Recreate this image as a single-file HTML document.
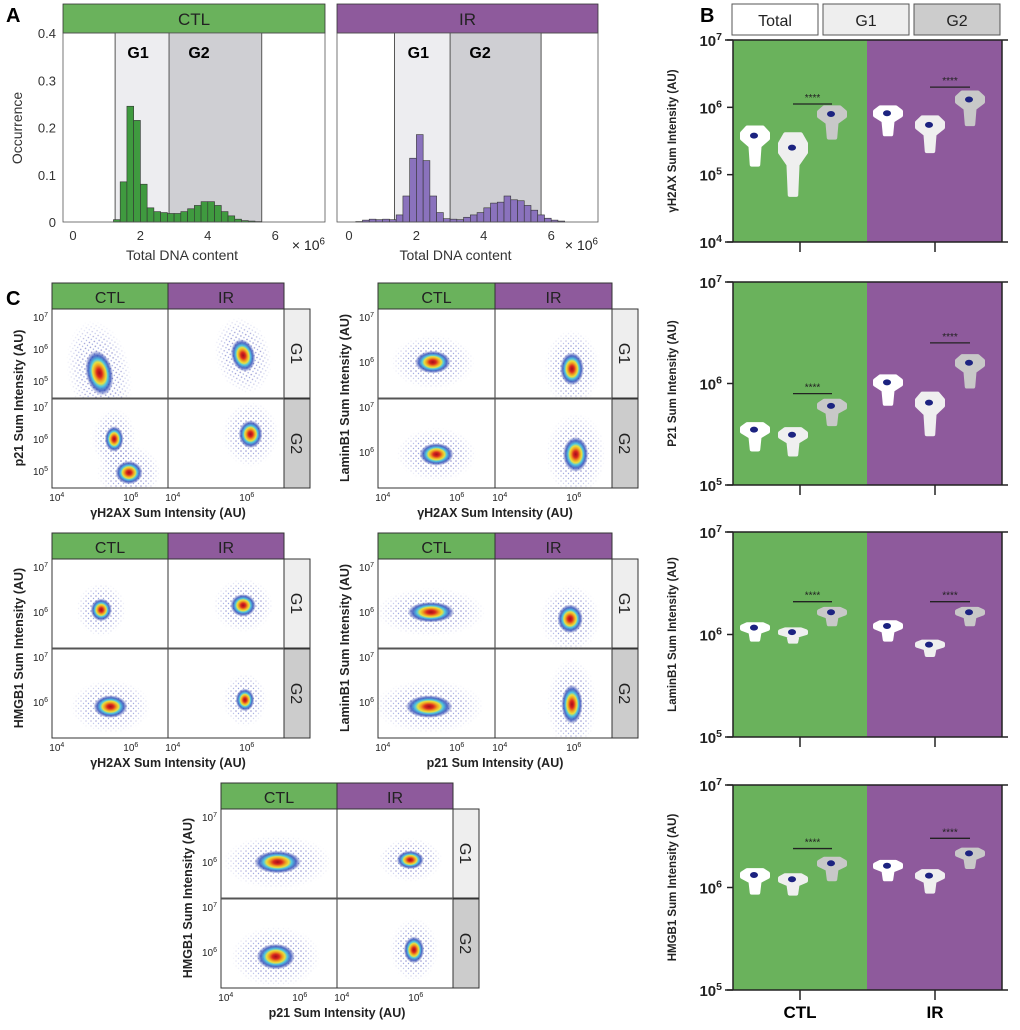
<!DOCTYPE html>
<html><head><meta charset="utf-8"><style>
body{margin:0;background:#fff;font-family:"Liberation Sans",Arial,sans-serif}
svg{display:block}
</style></head><body>
<svg id="fig" width="1020" height="1030" viewBox="0 0 1020 1030" xmlns="http://www.w3.org/2000/svg">
<defs>
<radialGradient id="dens" cx="0.5" cy="0.5" r="0.5">
<stop offset="0" stop-color="#a0101a"/><stop offset="0.18" stop-color="#d8261e"/><stop offset="0.35" stop-color="#f0a020"/><stop offset="0.48" stop-color="#e8e040"/><stop offset="0.6" stop-color="#50c8e0"/><stop offset="0.78" stop-color="#2848b8" stop-opacity="0.8"/><stop offset="1" stop-color="#2030a0" stop-opacity="0"/>
</radialGradient>
<radialGradient id="fade" cx="0.5" cy="0.5" r="0.5">
<stop offset="0" stop-color="#fff"/><stop offset="0.6" stop-color="#fff" stop-opacity="0.8"/><stop offset="1" stop-color="#fff" stop-opacity="0"/>
</radialGradient>
<mask id="fadeMask" maskContentUnits="objectBoundingBox"><rect x="0" y="0" width="1" height="1" fill="url(#fade)"/></mask>
<pattern id="dots" width="5" height="5" patternUnits="userSpaceOnUse"><circle cx="1" cy="1" r="0.8" fill="#2a2aa0"/><circle cx="3.5" cy="3.5" r="0.7" fill="#3a50c0"/></pattern>
</defs>
</svg>
<script>
// ---------- data ----------
const histCtlStart = 1.2, histIrStart = 0.2, histBin = 0.2;
const histCtl = [0.005,0.085,0.245,0.215,0.08,0.03,0.022,0.02,0.018,0.018,0.022,0.028,0.035,0.043,0.043,0.035,0.022,0.013,0.006,0.003,0.002,0.001];
const histIr = [0.001,0.004,0.006,0.005,0.006,0.005,0.015,0.055,0.135,0.185,0.13,0.055,0.02,0.007,0.006,0.005,0.01,0.015,0.02,0.03,0.04,0.042,0.055,0.047,0.045,0.035,0.025,0.015,0.008,0.004,0.002];
const histXTicks = [0,2,4,6];
const histYTicks = [0,0.1,0.2,0.3,0.4];
const gateCtl = [1.25,2.85,5.6];
const gateIr = [1.35,3.0,5.7];

const violinLabels = ["γH2AX Sum Intensity (AU)","P21 Sum Intensity (AU)","LaminB1 Sum Intensity (AU)","HMGB1 Sum Intensity (AU)"];
const violinMin = [4,5,5,5];
const violinTops = [[5.7,5.6,6.0,6.0,5.85,6.22],[5.6,5.55,5.83,6.07,5.9,6.27],[6.1,6.05,6.25,6.12,5.93,6.25],[6.17,6.12,6.28,6.25,6.16,6.37]];
const violinBots = [[5.15,4.7,5.55,5.6,5.35,5.75],[5.35,5.3,5.6,5.8,5.5,5.97],[5.95,5.93,6.1,5.95,5.8,6.1],[5.95,5.94,6.08,6.08,5.96,6.2]];
const sigLevels = [[6.05,6.3],[5.9,6.4],[6.32,6.32],[6.38,6.48]];

const scatterYLabels = ["p21 Sum Intensity (AU)","LaminB1 Sum Intensity (AU)","HMGB1 Sum Intensity (AU)","LaminB1 Sum Intensity (AU)","HMGB1 Sum Intensity (AU)"];
const scatterXLabels = ["γH2AX Sum Intensity (AU)","γH2AX Sum Intensity (AU)","γH2AX Sum Intensity (AU)","p21 Sum Intensity (AU)","p21 Sum Intensity (AU)"];
const scatterClusters = [
 [[[5.15,5.25,0.32,0.62,-12]],[[5.9,5.8,0.28,0.45,-15]],[[5.55,6.0,0.22,0.35,0],[5.95,4.95,0.32,0.32,0]],[[6.1,6.15,0.28,0.38,0]]],
 [[[5.35,6.0,0.42,0.22,0]],[[5.95,5.85,0.28,0.32,0]],[[5.45,5.95,0.4,0.22,0]],[[6.05,5.95,0.3,0.34,0]]],
 [[[5.2,6.05,0.25,0.22,0]],[[5.9,6.15,0.3,0.22,0]],[[5.45,5.9,0.4,0.22,0]],[[5.95,6.05,0.22,0.22,0]]],
 [[[5.3,6.0,0.55,0.2,0]],[[5.9,5.85,0.3,0.28,0]],[[5.25,5.9,0.55,0.22,0]],[[5.95,5.95,0.25,0.38,0]]],
 [[[5.4,6.0,0.55,0.22,0]],[[5.85,6.05,0.32,0.18,0]],[[5.35,5.9,0.45,0.25,0]],[[5.95,6.05,0.24,0.26,0]]]
];

// ---------- helpers ----------
const svg = document.getElementById('fig');
const NS = 'http://www.w3.org/2000/svg';
function mk(tag, at, parent){const e=document.createElementNS(NS,tag);for(const k in at)e.setAttribute(k,at[k]);(parent||svg).appendChild(e);return e;}
function txt(x,y,s,at,parent){const t=mk('text',Object.assign({x:x,y:y},at||{}),parent);t.textContent=s;return t;}
function sup(x,y,base,exp,size,anchor,parent){const t=mk('text',{x:x,y:y,'font-size':size,'text-anchor':anchor||'middle',fill:'#222'},parent);t.appendChild(document.createTextNode(base));const s=document.createElementNS(NS,'tspan');s.setAttribute('dy',-size*0.4);s.setAttribute('font-size',size*0.7);s.textContent=exp;t.appendChild(s);return t;}
const GREEN='#6ab25c', PURPLE='#8e5a9c';

let e;
e=txt(6,22,'A',{'font-size':20,'font-weight':'bold'});
e=txt(700,22,'B',{'font-size':20,'font-weight':'bold'});
e=txt(6,305,'C',{'font-size':20,'font-weight':'bold'});

// ---------- Panel A ----------
function hist(x0,x1,zeroX,title,col,data,start,gates,name){
  const g=mk('g',{});
  const top=33,bot=222;
  const xs=v=>zeroX+v*33.7, ys=v=>bot-v/0.4*(bot-top);
  const h=mk('rect',{x:x0,y:4,width:x1-x0,height:29,fill:col,stroke:'#333','stroke-width':0.8},g);
  txt((x0+x1)/2,25,title,{'font-size':17,'text-anchor':'middle',fill:'#222'},g);
  mk('rect',{x:xs(gates[0]),y:top,width:xs(gates[1])-xs(gates[0]),height:bot-top,fill:'#ededf0'},g);
  mk('rect',{x:xs(gates[1]),y:top,width:xs(gates[2])-xs(gates[1]),height:bot-top,fill:'#cfcfd3'},g);
  gates.forEach(v=>mk('line',{x1:xs(v),x2:xs(v),y1:top,y2:bot,stroke:'#555','stroke-width':1},g));
  const bc=col===GREEN?'#3f9a3f':'#8a72bd';
  data.forEach((v,i)=>{const r=mk('rect',{x:xs(start+i*histBin),y:ys(v),width:histBin*33.7,height:bot-ys(v),fill:bc,stroke:'#333','stroke-width':0.6},g);});
  mk('rect',{x:x0,y:top,width:x1-x0,height:bot-top,fill:'none',stroke:'#555','stroke-width':0.8},g);
  txt((xs(gates[0])+xs(gates[1]))/2-4,58,'G1',{'font-size':16,'font-weight':'bold','text-anchor':'middle'},g);
  txt(xs(gates[1])+30,58,'G2',{'font-size':16,'font-weight':'bold','text-anchor':'middle'},g);
  histXTicks.forEach(v=>{txt(xs(v),240,String(v),{'font-size':13,'text-anchor':'middle',fill:'#333'},g);});
  txt((x0+x1)/2-12,260,'Total DNA content',{'font-size':14,'text-anchor':'middle',fill:'#333'},g);
  sup(x1,250,'× 10','6',14,'end',g);
  return {g,ys,top,bot};
}
const hc=hist(63,325,73,'CTL',GREEN,histCtl,histCtlStart,gateCtl,'histogram-ctl');
hist(337,598,349,'IR',PURPLE,histIr,histIrStart,gateIr,'histogram-ir');
histYTicks.forEach(v=>{txt(56,hc.ys(v)+5,String(v),{'font-size':13,'text-anchor':'end',fill:'#333'});});
e=txt(0,0,'Occurrence',{'font-size':14,'text-anchor':'middle',fill:'#333',transform:'translate(22,128) rotate(-90)'});

// ---------- Panel B ----------
[['Total',732,'#fff'],['G1',823,'#eeeeee'],['G2',914,'#cccccc']].forEach(([l,x,c])=>{
  const r=mk('rect',{x:x,y:4,width:86,height:31,fill:c,stroke:'#555','stroke-width':1});
  txt(x+43,26,l,{'font-size':16,'text-anchor':'middle',fill:'#222'});
});
const vRows=[[40,242],[282,485],[532,737],[785,990]];
const vX=[755,793,832,888,930,970];
const vFill=['#ffffff','#efefef','#c8c8c8'];
vRows.forEach(([t,b],ri)=>{
  const g=mk('g',{});
  const lo=violinMin[ri],hi=7;const ys=v=>b-(v-lo)/(hi-lo)*(b-t);
  mk('rect',{x:733,y:t,width:134,height:b-t,fill:GREEN},g);
  mk('rect',{x:867,y:t,width:135,height:b-t,fill:PURPLE},g);
  mk('line',{x1:725,x2:1008,y1:t,y2:t,stroke:'#222','stroke-width':1.5},g);
  mk('line',{x1:725,x2:1008,y1:b,y2:b,stroke:'#222','stroke-width':1.5},g);
  mk('line',{x1:733,x2:733,y1:t,y2:b,stroke:'#222','stroke-width':1.5},g);
  mk('line',{x1:1002,x2:1002,y1:t,y2:b,stroke:'#222','stroke-width':1.5},g);
  for(let d=lo;d<=hi;d++){mk('line',{x1:727,x2:733,y1:ys(d),y2:ys(d),stroke:'#222','stroke-width':1.5},g);sup(722,ys(d)+6,'10',String(d),15,'end',g).setAttribute('font-weight','bold');}
  [800,935].forEach(x=>mk('line',{x1:x,x2:x,y1:b,y2:b+10,stroke:'#222','stroke-width':1.5},g));
  txt(0,0,violinLabels[ri],{'font-size':11.5,'font-weight':'bold','text-anchor':'middle',fill:'#222',transform:`translate(676,${(t+b)/2}) rotate(-90)`},g);
  vX.forEach((cx,i)=>{
    const y1=ys(violinTops[ri][i]),y2=ys(violinBots[ri][i]),h=y2-y1,w=13;
    const p=`M${cx-w*0.6},${y1} L${cx+w*0.6},${y1} L${cx+w},${y1+h*0.15} L${cx+w},${y1+h*0.3} L${cx+w*0.35},${y1+h*0.5} L${cx+w*0.25},${y2} L${cx-w*0.25},${y2} L${cx-w*0.35},${y1+h*0.5} L${cx-w},${y1+h*0.3} L${cx-w},${y1+h*0.15} Z`;
    const f=vFill[i%3];
    const v=mk('path',{d:p,fill:f,stroke:f,'stroke-width':4,'stroke-linejoin':'round'},g);
    mk('ellipse',{cx:cx-1,cy:y1+h*0.22,rx:4,ry:3,fill:'#1c2380'},g);
  });
  [[0,793,832],[1,930,970]].forEach(([k,a,c])=>{const y=ys(sigLevels[ri][k]);mk('line',{x1:a,x2:c,y1:y,y2:y,stroke:'#222','stroke-width':1.3},g);txt((a+c)/2,y-3,'****',{'font-size':10,'text-anchor':'middle',fill:'#222'},g);});
});
txt(800,1018,'CTL',{'font-size':17,'font-weight':'bold','text-anchor':'middle'});
txt(935,1018,'IR',{'font-size':17,'font-weight':'bold','text-anchor':'middle'});

// ---------- Panel C ----------
const grids=[[52,283,116],[378,283,117],[52,533,116],[378,533,117],[221,783,116]];
grids.forEach(([x0,y0,cw],gi)=>{
  const g=mk('g',{});
  const rh=89,top=y0+26;
  const yTop=gi==0?7.25:7.18, ppd=gi==0?32:45, yBotL=yTop-rh/ppd;
  const xL=3.87,ppx=37;
  [['CTL',GREEN],['IR',PURPLE]].forEach(([l,c],ci)=>{const r=mk('rect',{x:x0+ci*cw,y:y0,width:cw,height:26,fill:c,stroke:'#333','stroke-width':1},g);txt(x0+ci*cw+cw/2,y0+20,l,{'font-size':16,'text-anchor':'middle',fill:'#222'},g);});
  [['G1','#eeeeee'],['G2','#cccccc']].forEach(([l,c],ri)=>{mk('rect',{x:x0+2*cw,y:top+ri*(rh+1),width:26,height:rh,fill:c,stroke:'#333','stroke-width':1},g);txt(0,0,l,{'font-size':16,'text-anchor':'middle',fill:'#222',transform:`translate(${x0+2*cw+7},${top+ri*(rh+1)+rh/2}) rotate(90)`},g);});
  for(let ri=0;ri<2;ri++)for(let ci=0;ci<2;ci++){
    const px=x0+ci*cw,py=top+ri*(rh+1);
    const cid='clip'+gi+ri+ci;const cp=mk('clipPath',{id:cid},g);mk('rect',{x:px,y:py,width:cw,height:rh},cp);
    const cell=mk('g',{'clip-path':`url(#${cid})`},g);
    mk('rect',{x:px,y:py,width:cw,height:rh,fill:'#fff'},cell);
    const xs=v=>px+(v-xL)*ppx, ys=v=>py+(yTop-v)*ppd;
    scatterClusters[gi][ri*2+ci].forEach(([cx,cy,rx,ry,a])=>{
      const X=xs(cx),Y=ys(cy),RX=rx*ppx,RY=ry*ppd;
      const halo=mk('ellipse',{cx:X,cy:Y,rx:RX*2.7,ry:RY*2.7,fill:'url(#dots)',opacity:0.6,mask:'url(#fadeMask)',transform:`rotate(${a} ${X} ${Y})`},cell);
      const core=mk('ellipse',{cx:X,cy:Y,rx:RX*1.15,ry:RY*1.15,fill:'url(#dens)',transform:`rotate(${a} ${X} ${Y})`},cell);
    });
    mk('rect',{x:px,y:py,width:cw,height:rh,fill:'none',stroke:'#333','stroke-width':1},g);
    if(ci==0){for(let d=Math.ceil(yBotL);d<=7;d++){if(ys(d)>py+rh-4)continue;sup(px-4,ys(d)+4,'10',String(d),10,'end',g);}}
    if(ri==1){[4,6].forEach(d=>sup(xs(d),py+rh+13,'10',String(d),10,'middle',g));}
  }
  mk('line',{x1:x0,x2:x0+2*cw,y1:top+rh+0.5,y2:top+rh+0.5,stroke:'#555','stroke-width':2},g);
  txt(0,0,scatterYLabels[gi],{'font-size':12.5,'font-weight':'bold','text-anchor':'middle',fill:'#222',transform:`translate(${x0-29},${top+rh})`+' rotate(-90)'},g);
  txt(x0+cw,top+2*rh+30,scatterXLabels[gi],{'font-size':12.5,'font-weight':'bold','text-anchor':'middle',fill:'#222'},g);
});
</script>
</body></html>
